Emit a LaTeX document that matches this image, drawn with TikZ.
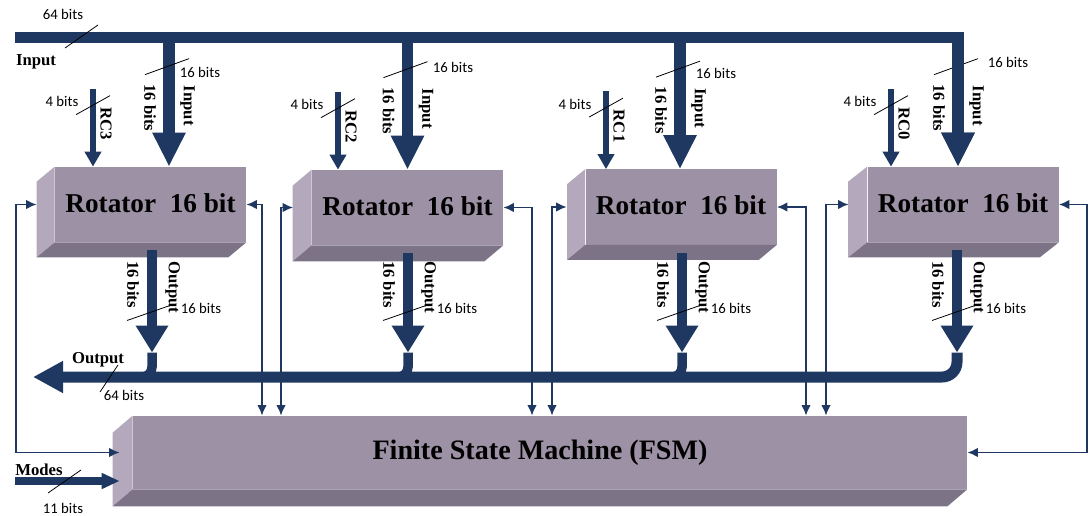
\documentclass[tikz,border=0pt]{standalone}
\usepackage{fontspec}
\setmainfont{Liberation Serif}
\newfontfamily\calib{Carlito}
\usepackage{xcolor}
\usepackage{tikz}
\usetikzlibrary{arrows.meta}

\definecolor{navy}{HTML}{1E3862}
\definecolor{boxfront}{HTML}{9D91A5}
\definecolor{boxside}{HTML}{B3A8BC}
\definecolor{boxbottom}{HTML}{7D7387}

\begin{document}
\begin{tikzpicture}[
  blk/.style={fill=boxfront, inner sep=0pt, minimum width=3.82cm, minimum height=1.5cm,
    font=\fontsize{15.5}{18}\selectfont\bfseries},
  bus/.style={draw=navy, line width=0.23cm},
  inarr/.style={bus, -{Triangle[length=0.68cm,width=0.62cm]}},
  outarr/.style={draw=navy, line width=0.19cm, -{Triangle[length=0.54cm,width=0.62cm]}},
  rcarr/.style={draw=navy, line width=0.13cm, -{Triangle[length=0.30cm,width=0.32cm]}},
  modarr/.style={draw=navy, line width=0.16cm, -{Triangle[length=0.36cm,width=0.30cm]}},
  ctl/.style={draw=navy, line width=1.1pt, {Latex[length=6pt,width=5.5pt]}-{Latex[length=6pt,width=5.5pt]}},
  tick/.style={draw=black, line width=0.45pt},
  bits/.style={font=\calib\fontsize{8.4}{10}\selectfont},
  tag/.style={font=\fontsize{9.5}{11}\selectfont\bfseries},
  vtag/.style={tag, rotate=-90}]
  \useasboundingbox (0,0) rectangle (21.8,10.3);

  % the five blocks, front faces first
  \node[blk] (rot1) at (3.01,6.21) {\raisebox{0.06cm}{Rotator\ \ 16 bit}};
  \node[blk] (rot2) at (8.15,6.15) {\raisebox{0.06cm}{Rotator\ \ 16 bit}};
  \node[blk] (rot3) at (13.62,6.16) {\raisebox{0.06cm}{Rotator\ \ 16 bit}};
  \node[blk] (rot4) at (19.26,6.21) {\raisebox{0.06cm}{Rotator\ \ 16 bit}};
  \node[blk, minimum width=16.68cm, minimum height=1.46cm, font=\fontsize{16}{19}\selectfont\bfseries]
    (fsm) at (11.0,1.25) {Finite State Machine (FSM)\hspace*{0.4cm}};
  \foreach \b/\dx/\dy in {rot1/-0.36/-0.30, rot2/-0.38/-0.32, rot3/-0.36/-0.30, rot4/-0.38/-0.30, fsm/-0.40/-0.34}{
    \fill[boxside] (\b.north west) -- ++(\dx,\dy) -- ([shift={(\dx,\dy)}]\b.south west) -- (\b.south west) -- cycle;
    \fill[boxbottom] (\b.south west) -- ++(\dx,\dy) -- ([shift={(\dx,\dy)}]\b.south east) -- (\b.south east) -- cycle;}

  % control lines to and from the FSM
  \coordinate (lft) at (0.32,0);
  \coordinate (rgt) at (21.74,0);
  \coordinate (fsml) at ([xshift=-0.26cm]fsm.west);
  \draw[ctl] ([xshift=-0.36cm]rot1.west) -| (lft |- fsml) -- (fsml);
  \draw[ctl] (rot4.east) -| (rgt |- fsm.east) -- (fsm.east);
  \foreach \j/\fx in {1/-5.76, 2/-0.36, 3/5.12}
    \draw[ctl] (rot\j.east) -| ([xshift=\fx cm]fsm.north);
  \foreach \j/\fx in {2/-5.38, 3/0.04, 4/5.52}
    \draw[ctl] ([xshift=-0.37cm]rot\j.west) -| ([xshift=\fx cm]fsm.north);

  % inputs, round constants and outputs of each rotator
  \coordinate (inp) at (0.30,9.55);
  \coordinate (otip) at (0,3.25);
  \foreach \i/\rc/\ix/\rx/\ox/\bx/\by in {1/RC3/0.37/-1.15/0.03/0.62/1.88, 2/RC2/0/-1.39/0.01/0.91/2.04,
      3/RC1/-0.02/-1.50/0.02/0.72/1.92, 4/RC0/-0.10/-1.44/-0.12/1.00/2.08}{
    \coordinate (in\i) at ([xshift=\ix cm]rot\i.north);
    \coordinate (rc\i) at ([xshift=\rx cm]rot\i.north);
    \coordinate (ost\i) at ([xshift=\ox cm]rot\i.south);
    \coordinate (o\i) at (ost\i |- otip);
    \draw[inarr] (in\i |- inp) -- (in\i);
    \draw[rcarr] ([yshift=1.56cm]rc\i) -- (rc\i);
    \draw[outarr] ([yshift=-0.16cm]ost\i) -- (o\i);
    \node[vtag] (ib\i) at ([shift={(-0.38,1.18)}]in\i) {16 bits};
    \node[vtag] (it\i) at ([shift={(0.37,1.22)}]in\i) {Input};
    \draw[tick] ([shift={(-0.48,1.84)}]in\i) -- ([shift={(0.40,2.16)}]in\i);
    \node[bits] (is\i) at ([shift={(\bx,\by)}]in\i) {16 bits};
    \node[bits] (rb\i) at ([shift={(-0.62,1.30)}]rc\i) {4 bits};
    \draw[tick] ([shift={(-0.34,1.04)}]rc\i) -- ([shift={(0.34,1.42)}]rc\i);
    \node[vtag] (rl\i) at ([shift={(0.26,0.86)}]rc\i) {\rc};
    \node[vtag] (ob\i) at ([shift={(-0.38,1.36)}]o\i) {16 bits};
    \node[vtag] (ol\i) at ([shift={(0.41,1.30)}]o\i) {Output};
    \draw[tick] ([shift={(-0.50,0.64)}]o\i) -- ([shift={(0.36,0.94)}]o\i);
    \node[bits] (obs\i) at ([shift={(0.98,0.88)}]o\i) {16 bits};}

  % 64 bit buses
  \draw[inarr] (inp) -| (in4);
  \coordinate (outp) at (0.66,2.76);
  \foreach \i in {1,2,3}
    \draw[draw=navy, line width=0.19cm, rounded corners=0.2cm] (o\i) |- ++(-0.25,-0.49);
  \draw[draw=navy, line width=0.22cm, rounded corners=0.3cm, -{Triangle[length=0.6cm,width=0.6cm]}] (o4) |- (outp);
  \node[tag] (inlbl) at (0.72,9.06) {Input};
  \node[bits] (in64) at (1.26,10.02) {64 bits};
  \draw[tick] (1.30,9.34) -- (1.96,9.80);
  \node[tag] (outlbl) at (1.96,3.10) {Output};
  \node[bits] (out64) at (2.48,2.40) {64 bits};
  \draw[tick] (2.00,2.46) -- (2.36,3.00);

  % mode select
  \coordinate (modes) at (0.30,0.68);
  \draw[modarr] (modes) -- (modes -| fsml);
  \node[tag] (modlbl) at (0.78,0.90) {Modes};
  \node[bits] (mod11) at (1.26,0.14) {11 bits};
  \draw[tick] (0.96,0.44) -- (1.62,0.90);
\end{tikzpicture}
\end{document}
